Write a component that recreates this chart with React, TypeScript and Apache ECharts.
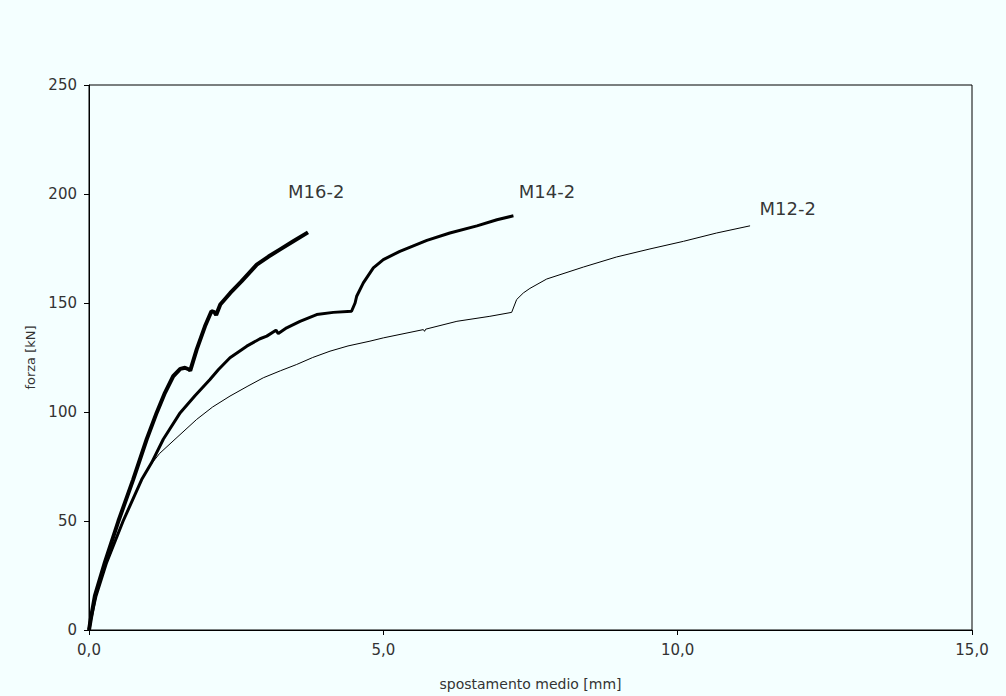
import React, { useEffect, useRef } from "react";
import * as echarts from "echarts";

const xTicks = { min: 0, max: 15, interval: 5 };
const yTicks = { min: 0, max: 250, interval: 50 };

const seriesNames = ["M16-2", "M14-2", "M12-2"];

const m16: number[][] = [
  [0, 0], [0.03, 5], [0.1, 15.7], [0.27, 31], [0.5, 50], [0.75, 69], [0.98, 87.5],
  [1.15, 99.7], [1.29, 108.8], [1.43, 116.4], [1.55, 119.8], [1.63, 120.3], [1.7, 119.5],
  [1.72, 119.0], [1.83, 128.7], [1.97, 139.3], [2.08, 146.2], [2.13, 145.8], [2.16, 144.5],
  [2.23, 149.3], [2.4, 154.6], [2.59, 159.9], [2.85, 167.6], [3.05, 171.3], [3.24, 174.5],
  [3.47, 178.3], [3.72, 182.4],
];

const m14: number[][] = [
  [0, 0], [0.03, 5], [0.12, 15.7], [0.3, 31], [0.58, 50], [0.895, 69], [1.065, 76.8],
  [1.262, 87.5], [1.55, 99.7], [1.8, 107.5], [2.055, 114.9], [2.2, 119.5], [2.395, 124.9],
  [2.55, 127.8], [2.68, 130.2], [2.905, 133.6], [3.02, 134.8], [3.176, 137.5], [3.216, 136.0],
  [3.358, 138.6], [3.584, 141.6], [3.868, 144.7], [4.15, 145.7], [4.46, 146.2], [4.52, 150.0],
  [4.547, 153.1], [4.66, 159.2], [4.83, 166.1], [5.0, 169.9], [5.28, 173.7], [5.74, 178.7],
  [6.13, 182.1], [6.59, 185.4], [6.93, 188.2], [7.21, 190.0],
];

const m12: number[][] = [
  [0, 0], [0.03, 5], [0.12, 15.7], [0.3, 31], [0.58, 50], [0.895, 69], [1.04, 75.5],
  [1.2, 81.0], [1.461, 87.5], [1.829, 96.6], [2.1, 102.3], [2.395, 107.3], [2.7, 111.9],
  [2.961, 115.7], [3.25, 118.9], [3.528, 121.8], [3.8, 125.0], [4.094, 127.9], [4.4, 130.3],
  [4.773, 132.5], [5.0, 134.0], [5.68, 137.8], [5.7, 137.0], [5.72, 138.0], [6.25, 141.6],
  [6.81, 143.9], [7.18, 145.7], [7.265, 151.6], [7.378, 154.6], [7.49, 156.7], [7.775, 161.0],
  [8.4, 166.5], [8.96, 171.1], [9.53, 174.8], [10.1, 178.3], [10.66, 182.1], [11.23, 185.4],
];

const labelPoints: number[][] = [
  [3.86, 201],
  [7.78, 201],
  [11.87, 193.2],
];

const lineWidths = [4, 3, 1];

export default function App() {
  const ref = useRef<HTMLDivElement>(null);
  useEffect(() => {
    if (!ref.current) return;
    const chart = echarts.init(ref.current, null, { renderer: "svg" });
    const datasets = [m16, m14, m12];
    const font = "DejaVu Sans";
    chart.setOption({
      animation: false,
      backgroundColor: "#f4ffff",
      grid: {
        left: 89,
        right: 34,
        top: 85,
        bottom: 65,
        show: true,
        borderColor: "#000",
        borderWidth: 1,
        backgroundColor: "transparent",
      },
      xAxis: {
        type: "value",
        min: xTicks.min,
        max: xTicks.max,
        interval: xTicks.interval,
        name: "spostamento medio [mm]",
        nameLocation: "middle",
        nameGap: 47,
        nameTextStyle: { fontFamily: font, fontSize: 14, color: "#333" },
        axisLine: { show: true, onZero: false, lineStyle: { color: "#000", width: 1 } },
        axisTick: { show: true, length: 5, lineStyle: { color: "#000" } },
        splitLine: { show: false },
        axisLabel: {
          margin: 12,
          fontFamily: font,
          fontSize: 15,
          color: "#333",
          formatter: (v: number) => v.toFixed(1).replace(".", ","),
        },
      },
      yAxis: {
        type: "value",
        min: yTicks.min,
        max: yTicks.max,
        interval: yTicks.interval,
        name: "forza [kN]",
        nameLocation: "middle",
        nameGap: 52,
        nameTextStyle: { fontFamily: font, fontSize: 13, color: "#333" },
        axisLine: { show: true, lineStyle: { color: "#000", width: 1 } },
        axisTick: { show: true, length: 5, lineStyle: { color: "#000" } },
        splitLine: { show: false },
        axisLabel: { margin: 12, fontFamily: font, fontSize: 15, color: "#333" },
      },
      series: [
        ...datasets.map((d, i) => ({
          type: "line",
          name: seriesNames[i],
          data: d,
          showSymbol: false,
          symbol: "none",
          lineStyle: { color: "#000", width: lineWidths[i] },
          itemStyle: { color: "#000" },
        })),
        {
          type: "scatter",
          symbolSize: 0,
          data: labelPoints.map((p, i) => ({ value: p, name: seriesNames[i] })),
          label: {
            show: true,
            position: "inside",
            formatter: (p: any) => p.name,
            fontFamily: font,
            fontSize: 18,
            color: "#000",
            textBorderWidth: 0,
          },
          silent: true,
        },
      ],
    });
    return () => chart.dispose();
  }, []);
  return (
    <div
      ref={ref}
      style={{ position: "fixed", left: 0, top: 0, width: 1006, height: 696 }}
    />
  );
}
